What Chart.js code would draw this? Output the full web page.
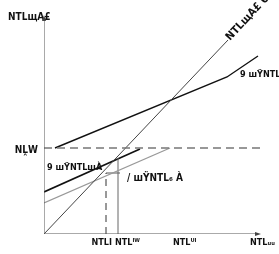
<!DOCTYPE html>
<html>
<head>
<meta charset="utf-8">
<script src="https://cdn.jsdelivr.net/npm/chart.js@4.4.1/dist/chart.umd.min.js"></script>
<style>
  body { margin: 0; background: #fff; }
  #wrap { width: 279px; height: 254px; }
</style>
</head>
<body>
<div id="wrap"><canvas id="diagram" width="279" height="254"></canvas></div>
<script>
// all points are in diagram units (origin at the axes corner)
const axisY = [{x: 0, y: 0}, {x: 0, y: 216}];
const axisX = [{x: 0, y: 0}, {x: 214, y: 0}];
const diagonal = [{x: 0, y: 0}, {x: 184, y: 194}];
const upperLine = [{x: 11, y: 86}, {x: 183, y: 157}, {x: 214, y: 178}];
const lowerLine = [{x: 0, y: 42}, {x: 96, y: 85}];
const grayLine = [{x: 0, y: 31}, {x: 126, y: 86}];
const dashedLevel = [{x: 0, y: 86}, {x: 220, y: 86}];
const solidDrop = [{x: 74, y: 0}, {x: 74, y: 76}];
const dashedDrop = [{x: 62, y: 0}, {x: 62, y: 61}];
const smallStep = [{x: 62, y: 61}, {x: 76, y: 61}];

const xTickPos = [68, 71, 129, 206];
const xTickAlign = ["right", "left", "left", "left"];
const xTickText = ["NTLI", "NTLᴵᵂ", "NTLᵁᴵ", "NTLᵤᵤ"];

const textLabels = [
    {x: -36, y: 217, text: "NTLщA£", align: "left", size: 10},
    {x: -6, y: 84, text: "NḼW", align: "right", size: 10},
    {x: 184, y: 195, text: "NTLщA£ Ü", align: "left", size: 11, rot: -47},
    {x: 196, y: 159, text: "9 шŸNTLш", align: "left", size: 9},
    {x: 3, y: 66, text: "9 шŸNTLшÀ", align: "left", size: 9},
    {x: 83, y: 56, text: "/ шŸNTL₆ À", align: "left", size: 10}
];

function lineSet(points, color, width, dash) {
    return {
        data: points,
        showLine: true,
        borderColor: color,
        borderWidth: width,
        borderDash: dash || [],
        pointRadius: 0,
        fill: false,
        tension: 0
    };
}

const FONT = '"Liberation Sans Narrow", "DejaVu Sans Condensed", sans-serif';

const labelPlugin = {
    id: 'labels',
    afterDatasetsDraw(chart) {
        const ctx = chart.ctx;
        const xs = chart.scales.x, ys = chart.scales.y;
        ctx.save();
        ctx.fillStyle = '#111';
        ctx.textBaseline = 'middle';
        textLabels.forEach(l => {
            ctx.save();
            ctx.translate(xs.getPixelForValue(l.x), ys.getPixelForValue(l.y));
            if (l.rot) ctx.rotate(l.rot * Math.PI / 180);
            ctx.font = 'bold ' + l.size + 'px ' + FONT;
            ctx.textAlign = l.align;
            ctx.fillText(l.text, 0, 0);
            ctx.restore();
        });
        ctx.font = 'bold 9px ' + FONT;
        xTickPos.forEach((v, i) => {
            ctx.textAlign = xTickAlign[i];
            ctx.fillText(xTickText[i], xs.getPixelForValue(v), ys.getPixelForValue(-9));
        });
        // arrow heads on the two axes
        ctx.fillStyle = '#444';
        const tx = xs.getPixelForValue(0), ty = ys.getPixelForValue(216);
        ctx.beginPath();
        ctx.moveTo(tx, ty - 3);
        ctx.lineTo(tx - 2, ty + 3);
        ctx.lineTo(tx + 2, ty + 3);
        ctx.fill();
        const rx = xs.getPixelForValue(214), ry = ys.getPixelForValue(0);
        ctx.beginPath();
        ctx.moveTo(rx + 3, ry);
        ctx.lineTo(rx - 3, ry - 2);
        ctx.lineTo(rx - 3, ry + 2);
        ctx.fill();
        ctx.restore();
    }
};

new Chart(document.getElementById('diagram').getContext('2d'), {
    type: 'scatter',
    data: {
        datasets: [
            lineSet(axisY, '#555', 1),
            lineSet(axisX, '#555', 1),
            lineSet(dashedLevel, '#777', 1.5, [8, 5]),
            lineSet(diagonal, '#444', 1),
            lineSet(grayLine, '#999', 1.3),
            lineSet(solidDrop, '#666', 1),
            lineSet(dashedDrop, '#333', 1, [7, 5]),
            lineSet(smallStep, '#555', 1),
            lineSet(upperLine, '#111', 1.4),
            lineSet(lowerLine, '#111', 1.6)
        ]
    },
    options: {
        responsive: false,
        animation: false,
        layout: { padding: { left: 44, top: 16, right: 11, bottom: 20 } },
        plugins: { legend: { display: false }, tooltip: { enabled: false } },
        scales: {
            x: { type: 'linear', display: false, min: 0, max: 224 },
            y: { type: 'linear', display: false, min: 0, max: 218 }
        }
    },
    plugins: [labelPlugin]
});
</script>
</body>
</html>
